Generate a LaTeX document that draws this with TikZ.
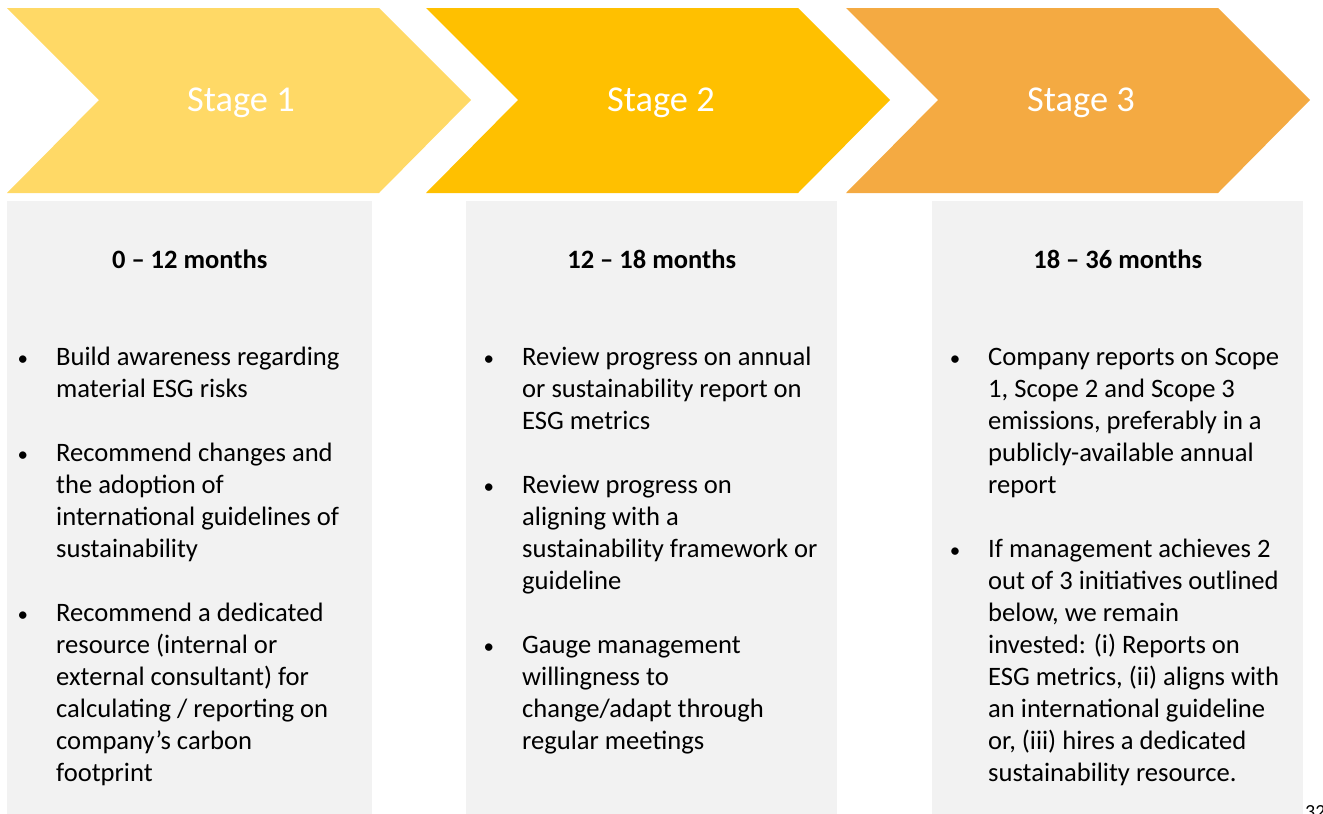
\documentclass[tikz,border=0pt]{standalone}
\usepackage{fontspec}
\setmainfont{Carlito}
\usepackage{xcolor}
\usepackage{tikz}
\usetikzlibrary{positioning}

\definecolor{stageone}{HTML}{FFD966}
\definecolor{stagetwo}{HTML}{FFC000}
\definecolor{stagethree}{HTML}{F4AA42}
\definecolor{panelgray}{HTML}{F2F2F2}

% bullet hung to the left of an item
\newcommand{\itm}{\llap{{\fontsize{21}{21}\selectfont\textbullet}\hspace{28pt}}}

\begin{document}
\begin{tikzpicture}[x=1pt, y=-1pt,
    stagelabel/.style={text=white, inner sep=0pt, font=\fontsize{36.4}{42}\selectfont},
    panel/.style={fill=panelgray, inner sep=0pt, anchor=north west, minimum width=371pt, minimum height=640pt},
    period/.style={inner sep=0pt, font=\bfseries\fontsize{26.5}{31}\selectfont},
    items/.style={anchor=north west, align=left, inner sep=0pt, font=\fontsize{26.6}{32}\selectfont},
    pageno/.style={anchor=north west, inner sep=0pt, font=\fontsize{20}{24}\selectfont}
  ]
    \useasboundingbox (0,0) rectangle (1323,814);

    % Chevrons
    \fill[stageone]   (7,8) -- (379,8) -- (471,100) -- (379,193) -- (7,193) -- (99,100) -- cycle;
    \fill[stagetwo]   (426,8) -- (798,8) -- (890,100) -- (798,193) -- (426,193) -- (518,100) -- cycle;
    \fill[stagethree] (846,8) -- (1218,8) -- (1310,100) -- (1218,193) -- (846,193) -- (938,100) -- cycle;

    \node[stagelabel] (s1) at (241,103) {Stage 1};
    \node[stagelabel] (s2) at (661,103) {Stage 2};
    \node[stagelabel] (s3) at (1081,103) {Stage 3};

    % Panels
    \node[panel, minimum width=365pt] (p1) at (7,201) {};
    \node[panel] (p2) at (466,201) {};
    \node[panel] (p3) at (932,201) {};

    % Periods
    \node[period, below=49pt of p1.north] (t1) {0 -- 12 months};
    \node[period, below=49pt of p2.north] (t2) {12 -- 18 months};
    \node[period, below=49pt of p3.north] (t3) {18 -- 36 months};

    % Items
    \node[items] (l1) at (56,343) {%
      \strut\itm Build awareness regarding\\
      material ESG risks\\[32pt]
      \itm Recommend changes and\\
      the adoption of\\
      international guidelines of\\
      sustainability\\[32pt]
      \itm Recommend a dedicated\\
      resource (internal or\\
      external consultant) for\\
      calculating / reporting on\\
      company’s carbon\\
      footprint};

    \node[items] (l2) at (522,343) {%
      \strut\itm Review progress on annual\\
      or sustainability report on\\
      ESG metrics\\[32pt]
      \itm Review progress on\\
      aligning with a\\
      sustainability framework or\\
      guideline\\[32pt]
      \itm Gauge management\\
      willingness to\\
      change/adapt through\\
      regular meetings};

    \node[items] (l3) at (988,343) {%
      \strut\itm Company reports on Scope\\
      1, Scope 2 and Scope 3\\
      emissions, preferably in a\\
      publicly-available annual\\
      report\\[32pt]
      \itm If management achieves 2\\
      out of 3 initiatives outlined\\
      below, we remain\\
      invested: (i) Reports on\\
      ESG metrics, (ii) aligns with\\
      an international guideline\\
      or, (iii) hires a dedicated\\
      sustainability resource.};

    % Page number
    \node[pageno] (pg) at (1305,805) {32};
\end{tikzpicture}
\end{document}
